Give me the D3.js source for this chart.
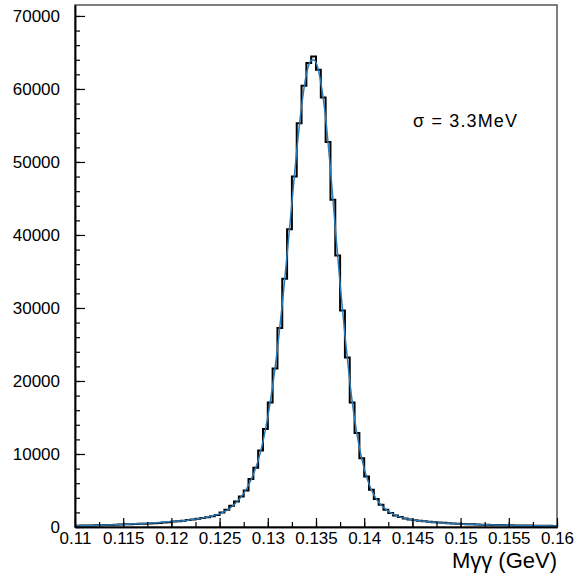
<!DOCTYPE html>
<html>
<head>
<meta charset="utf-8">
<script src="https://cdn.jsdelivr.net/npm/d3@7"></script>
<style>
  body { margin: 0; background: #fff; }
  text { font-family: "Liberation Sans", Arial, sans-serif; }
</style>
</head>
<body>
<script>
const width = 578;
const height = 584;
const margin = {left: 75, right: 21, top: 5, bottom: 57};

// histogram: 100 bins of 0.5 MeV from 0.11 to 0.16 GeV
const binLow = 0.11;
const binWidth = 0.0005;
const counts = [
  180, 195, 205, 220, 235, 250, 270, 290, 310, 335,
  360, 380, 405, 430, 460, 490, 525, 565, 610, 660,
  740, 800, 870, 950, 1040, 1140, 1240, 1350, 1480, 1640,
  2000, 2370, 2920, 3510, 4190, 5010, 6570, 8120, 10490, 13420,
  17060, 21700, 27250, 34000, 40800, 48000, 55320, 60430, 63540, 64440,
  62620, 58830, 52720, 44820, 37190, 29660, 23220, 17060, 12870, 9420,
  6930, 5110, 3830, 3050, 2370, 1920, 1590, 1370, 1180, 1030,
  930, 850, 780, 720, 660, 610, 570, 530, 490, 450,
  420, 390, 365, 345, 325, 305, 290, 275, 260, 245,
  230, 220, 210, 200, 190, 180, 170, 160, 155, 150
];

// fitted curve
const fitMass = [0.110, 0.1125, 0.115, 0.1175, 0.120, 0.1215, 0.123, 0.124, 0.125, 0.1255,
  0.126, 0.1265, 0.127, 0.1275, 0.128, 0.1285, 0.129, 0.1295, 0.130, 0.1305,
  0.131, 0.1315, 0.132, 0.1325, 0.133, 0.1335, 0.134, 0.1345, 0.13475, 0.135,
  0.1355, 0.136, 0.1365, 0.137, 0.1375, 0.138, 0.1385, 0.139, 0.1395, 0.140,
  0.1405, 0.141, 0.1415, 0.142, 0.1425, 0.143, 0.144, 0.145, 0.1475, 0.150,
  0.1525, 0.155, 0.1575, 0.160];
const fitValue = [175, 250, 350, 500, 740, 900, 1180, 1450, 1800, 2100,
  2500, 3050, 3750, 4600, 5750, 7200, 9100, 11700, 15100, 19300,
  24400, 30500, 37300, 44400, 51500, 57600, 62000, 63900, 64000, 63600,
  60900, 56000, 49000, 41000, 33300, 26300, 20000, 14800, 10900, 8000,
  5900, 4400, 3400, 2700, 2150, 1760, 1250, 980, 620, 420,
  300, 230, 180, 150];

const xMajor = [0.11, 0.115, 0.12, 0.125, 0.13, 0.135, 0.14, 0.145, 0.15, 0.155, 0.16];
const xLabels = ["0.11", "0.115", "0.12", "0.125", "0.13", "0.135", "0.14", "0.145", "0.15", "0.155", "0.16"];
const yMajor = [0, 10000, 20000, 30000, 40000, 50000, 60000, 70000];
const yMax = 71500;
const xTitle = "Mγγ (GeV)";
const note = "σ = 3.3MeV";

const svg = d3.select('body')
              .append('svg')
              .attr('width', width)
              .attr('height', height);

const xScale = d3.scaleLinear()
                 .domain([0.11, 0.16])
                 .range([margin.left, width - margin.right]);
const yScale = d3.scaleLinear()
                 .domain([0, yMax])
                 .range([height - margin.bottom, margin.top]);

// frame
svg.append('rect')
   .attr('x', margin.left)
   .attr('y', margin.top)
   .attr('width', width - margin.left - margin.right)
   .attr('height', height - margin.top - margin.bottom)
   .attr('fill', 'none')
   .attr('stroke', '#555')
   .attr('stroke-width', 1.5);

// histogram outline
const histPoints = counts.map((c, i) => [binLow + i * binWidth, c]);
histPoints.push([binLow + counts.length * binWidth, counts[counts.length - 1]]);
const histLine = d3.line()
                   .x(d => xScale(d[0]))
                   .y(d => yScale(d[1]))
                   .curve(d3.curveStepAfter);
svg.append('path')
   .attr('d', histLine(histPoints))
   .attr('fill', 'none')
   .attr('stroke', '#000')
   .attr('stroke-width', 2);

// fit
const fitLine = d3.line()
                  .x((d, i) => xScale(fitMass[i]))
                  .y(d => yScale(d))
                  .curve(d3.curveMonotoneX);
svg.append('path')
   .attr('d', fitLine(fitValue))
   .attr('fill', 'none')
   .attr('stroke', '#2b7bb9')
   .attr('stroke-width', 1.5);

// x axis
const xMinor = d3.range(0, 21).map(i => 0.11 + i * 0.0025);
svg.append('g')
   .attr('transform', `translate(0, ${height - margin.bottom})`)
   .call(d3.axisBottom(xScale).tickValues(xMinor).tickSize(-5).tickSizeOuter(0).tickFormat(''));
svg.append('g')
   .attr('class', 'x-axis')
   .attr('transform', `translate(0, ${height - margin.bottom})`)
   .call(d3.axisBottom(xScale)
           .tickValues(xMajor)
           .tickSize(-9)
           .tickSizeOuter(0)
           .tickPadding(5)
           .tickFormat((d, i) => xLabels[i]));

// y axis
const yMinor = d3.range(0, 36).map(i => i * 2000);
svg.append('g')
   .attr('transform', `translate(${margin.left}, 0)`)
   .call(d3.axisLeft(yScale).tickValues(yMinor).tickSize(-5).tickSizeOuter(0).tickFormat(''));
svg.append('g')
   .attr('class', 'y-axis')
   .attr('transform', `translate(${margin.left}, 0)`)
   .call(d3.axisLeft(yScale)
           .tickValues(yMajor)
           .tickSize(-10)
           .tickSizeOuter(0)
           .tickPadding(15)
           .tickFormat(d3.format('d')));

svg.selectAll('.domain').attr('stroke', '#000').attr('stroke-width', 1.5);
svg.selectAll('.tick line').attr('stroke', '#000').attr('stroke-width', 1.2);
svg.selectAll('.tick text')
   .attr('font-family', '"Liberation Sans", Arial, sans-serif')
   .attr('font-size', 17)
   .attr('fill', '#000');

// axis title
svg.append('text')
   .attr('x', width - margin.right)
   .attr('y', 568)
   .attr('text-anchor', 'end')
   .attr('font-size', 22)
   .text(xTitle);

// sigma note
svg.append('text')
   .attr('x', 413)
   .attr('y', 127)
   .attr('font-size', 18)
   .attr('textLength', 104)
   .attr('lengthAdjust', 'spacing')
   .text(note);
</script>
</body>
</html>
